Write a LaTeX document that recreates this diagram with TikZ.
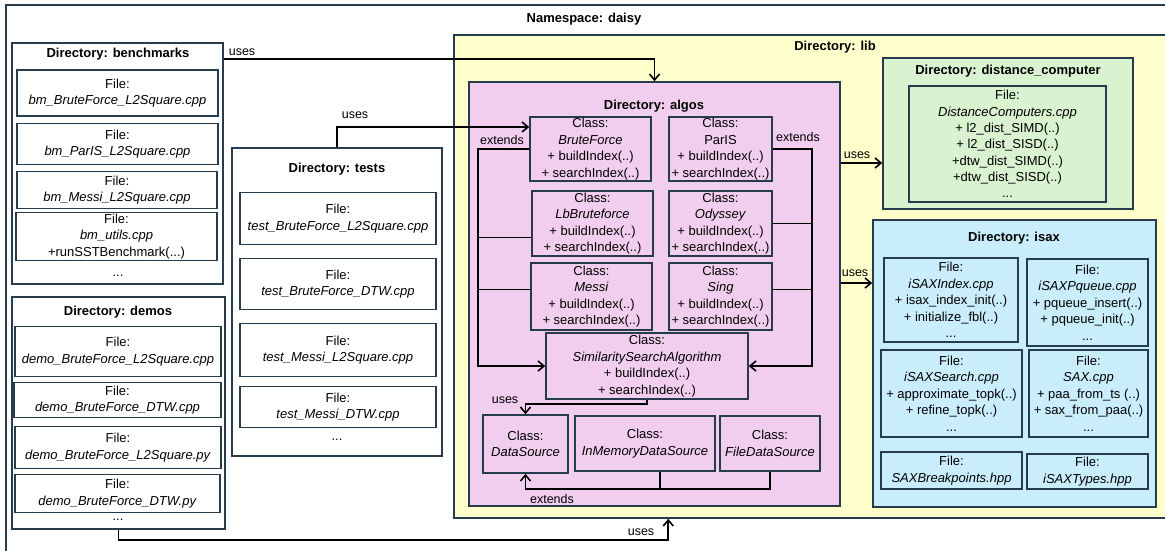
\documentclass[tikz,border=0pt]{standalone}
\usepackage{fontspec}
\setmainfont{Liberation Sans}
\usetikzlibrary{arrows.meta}
\definecolor{bcol}{HTML}{263C4C}
\definecolor{libfill}{HTML}{FFFFCC}
\definecolor{algfill}{HTML}{F2CEEE}
\definecolor{dcfill}{HTML}{D9F2D0}
\definecolor{isfill}{HTML}{CAEDFB}
\tikzset{
 base/.style={font=\fontsize{13}{16.5}\selectfont},
 frame/.style={draw=bcol, line width=1.5pt, inner sep=0pt, align=center, base},
 sz/.style 2 args={minimum width=#1pt, minimum height=#2pt},
 ttl/.style={font=\fontsize{13}{16}\selectfont\bfseries, inner sep=0pt},
 lbl/.style={font=\fontsize{12.5}{14}\selectfont, inner sep=0pt},
 dots/.style={font=\fontsize{13}{16}\selectfont, inner sep=0pt, anchor=base},
 conn/.style={draw=black, line width=1.6pt},
 arr/.style={conn, -{Straight Barb[length=6pt,width=10pt]}},
}
\begin{document}
\begin{tikzpicture}[x=1pt,y=-1pt]
\useasboundingbox (0,0) rectangle (1165,550);
\fill[white] (0,0) rectangle (1165,550);
\clip (0,0) rectangle (1165,550);

% namespace
\node[frame, sz={1179}{560}] (ns) at (595.5,285) {};
\node[ttl] (nst) at (584,19) {Namespace: daisy};

% benchmarks
\node[frame, fill=white, sz={211}{241}] (bench) at (117.5,163.5) {};
\node[ttl] (bencht) at (118,54) {Directory: benchmarks};
\node[frame, sz={201}{46}] (bm1) at (117.5,93) {File:\\\textit{bm\_BruteForce\_L2Square.cpp}};
\node[frame, sz={201}{41}] (bm2) at (117.5,144) {File:\\\textit{bm\_ParIS\_L2Square.cpp}};
\node[frame, sz={200}{37}] (bm3) at (117,190) {File:\\\textit{bm\_Messi\_L2Square.cpp}};
\node[frame, sz={201}{48}] (bm4) at (116.5,236.5) {File:\\\textit{bm\_utils.cpp}\\+runSSTBenchmark(...)};
\node[dots] (bmd) at (118,276) {...};

% tests
\node[frame, fill=white, sz={210}{308}] (tests) at (337,302) {};
\node[ttl] (testst) at (337,169) {Directory: tests};
\node[frame, sz={196}{52}] (ts1) at (338,218.5) {File:\\\textit{test\_BruteForce\_L2Square.cpp}};
\node[frame, sz={196}{51}] (ts2) at (338,284) {File:\\\textit{test\_BruteForce\_DTW.cpp}};
\node[frame, sz={196}{53}] (ts3) at (338,350) {File:\\\textit{test\_Messi\_L2Square.cpp}};
\node[frame, sz={196}{41}] (ts4) at (338,407) {File:\\\textit{test\_Messi\_DTW.cpp}};
\node[dots] (tsd) at (337,440) {...};

% demos
\node[frame, fill=white, sz={213}{232}] (demos) at (118.5,413) {};
\node[ttl] (demost) at (118,312) {Directory: demos};
\node[frame, sz={206}{50}] (dm1) at (118,351.5) {File:\\\textit{demo\_BruteForce\_L2Square.cpp}};
\node[frame, sz={207}{35}] (dm2) at (117.5,400) {File:\\\textit{demo\_BruteForce\_DTW.cpp}};
\node[frame, sz={206}{42}] (dm3) at (118,447.5) {File:\\\textit{demo\_BruteForce\_L2Square.py}};
\node[frame, sz={205}{38}] (dm4) at (117.5,493.5) {File:\\\textit{demo\_BruteForce\_DTW.py}};
\node[dots] (dmd) at (118,520) {...};

% lib
\node[frame, fill=libfill, sz={731}{483}] (lib) at (819.5,276.5) {};
\node[ttl] (libt) at (835,47) {Directory: lib};

% algos
\node[frame, fill=algfill, sz={371}{424}] (algos) at (654.5,294) {};
\node[ttl] (algost) at (654,106) {Directory: algos};
\node[frame, sz={121}{64}] (bf) at (590.5,149) {Class:\\\textit{BruteForce}\\+ buildIndex(..)\\+ searchIndex(..)};
\node[frame, sz={103}{64}] (pa) at (720.5,149) {Class:\\ParIS\\+ buildIndex(..)\\+ searchIndex(..)};
\node[frame, sz={121}{65}] (lb) at (592.5,223.5) {Class:\\\textit{LbBruteforce}\\+ buildIndex(..)\\+ searchIndex(..)};
\node[frame, sz={103}{65}] (od) at (720.5,223.5) {Class:\\\textit{Odyssey}\\+ buildIndex(..)\\+ searchIndex(..)};
\node[frame, sz={121}{67}] (ms) at (591.5,296.5) {Class:\\\textit{Messi}\\+ buildIndex(..)\\+ searchIndex(..)};
\node[frame, sz={103}{67}] (sg) at (720.5,296.5) {Class:\\\textit{Sing}\\+ buildIndex(..)\\+ searchIndex(..)};
\node[frame, sz={202}{66}] (sim) at (647,366) {Class:\\\textit{SimilaritySearchAlgorithm}\\+ buildIndex(..)\\+ searchIndex(..)};
\node[frame, sz={85}{58}] (ds) at (525.5,444) {Class:\\\textit{DataSource}};
\node[frame, sz={140}{55}] (im) at (645,443.5) {Class:\\\textit{InMemoryDataSource}};
\node[frame, sz={100}{55}] (fd) at (770,443.5) {Class:\\\textit{FileDataSource}};

% distance_computer
\node[frame, fill=dcfill, sz={250}{151}] (dc) at (1008,133.5) {};
\node[ttl] (dct) at (1008,71) {Directory: distance\_computer};
\node[frame, sz={197}{116}, font=\fontsize{13}{16.3}\selectfont] (dcf) at (1007.5,144) {File:\\\textit{DistanceComputers.cpp}\\+ l2\_dist\_SIMD(..)\\+ l2\_dist\_SISD(..)\\+dtw\_dist\_SIMD(..)\\+dtw\_dist\_SISD(..)\\...};

% isax
\node[frame, fill=isfill, sz={283}{287}] (isax) at (1014.5,363.5) {};
\node[ttl] (isaxt) at (1014,238) {Directory: isax};
\node[frame, sz={134}{84}] (i1) at (951,300) {File:\\\textit{iSAXIndex.cpp}\\+ isax\_index\_init(..)\\+ initialize\_fbl(..)\\...};
\node[frame, sz={121}{87}] (i2) at (1087.5,302.5) {File:\\\textit{iSAXPqueue.cpp}\\+ pqueue\_insert(..)\\+ pqueue\_init(..)\\...};
\node[frame, sz={141}{87}] (i3) at (951.5,393.5) {File:\\\textit{iSAXSearch.cpp}\\+ approximate\_topk(..)\\+ refine\_topk(..)\\...};
\node[frame, sz={119}{87}] (i4) at (1088.5,393.5) {File:\\\textit{SAX.cpp}\\+ paa\_from\_ts (..)\\+ sax\_from\_paa(..)\\...};
\node[frame, sz={141}{37}] (i5) at (951.5,470.5) {File:\\\textit{SAXBreakpoints.hpp}};
\node[frame, sz={121}{35}] (i6) at (1087.5,471.5) {File:\\\textit{iSAXTypes.hpp}};

% connectors
\draw[arr] ([yshift=-17pt]bench.north east) -| (algos.north);
\node[lbl] (l1) at (242,52) {uses};
\draw[arr] (tests.north) |- ([yshift=22pt]bf.west);
\node[lbl] (l2) at (355,115) {uses};
\draw[arr] (demos.south) -- ++(0,10) -| ([xshift=215pt]lib.south west);
\node[lbl] (l3) at (641,532) {uses};
\coordinate (uA) at ([yshift=131pt]algos.east);
\draw[arr] (uA) -- (uA -| dc.west);
\node[lbl] (l4) at (857,155) {uses};
\coordinate (uB) at ([yshift=11pt]algos.east);
\draw[arr] (uB) -- (uB -| isax.west);
\node[lbl] (l5) at (855,273) {uses};

\draw[arr] (bf.west) -- ++(-51,0) |- (sim.west);
\draw[conn] ([yshift=-14pt]lb.west) -- ++(-53,0);
\draw[conn] ([yshift=7pt]ms.west) -- ++(-52,0);
\node[lbl] (l6) at (502,140) {extends};
\draw[arr] (pa.east) -- ++(39,0) |- (sim.east);
\draw[conn] (od.east) -- ++(39,0);
\draw[conn] ([yshift=7pt]sg.east) -- ++(39,0);
\node[lbl] (l7) at (798,137) {extends};

\draw[arr] (sim.south) -- ++(0,4) -| (ds.north);
\node[lbl] (l8) at (505,400) {uses};
\draw[conn] ([xshift=15pt]im.south) -- ++(0,17);
\draw[arr] (fd.south) -- ++(0,17) -| (ds.south);
\node[lbl] (l9) at (552,499) {extends};
\end{tikzpicture}
\end{document}
